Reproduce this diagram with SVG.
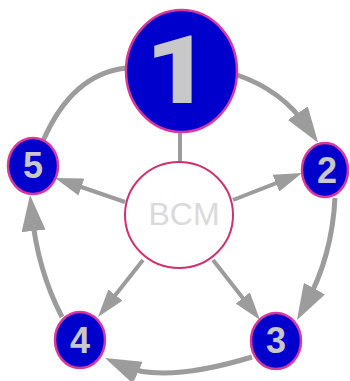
<svg xmlns="http://www.w3.org/2000/svg" width="350" height="381" viewBox="0 0 350 381">
<style>
.conn{fill:none;stroke:#9c9c9c;stroke-width:5}
.spoke{fill:none;stroke:#9c9c9c;stroke-width:4}
.node{fill:#0000cc;stroke:#d8389e;stroke-width:2.5}
.num{font-family:"Liberation Sans",Arial,sans-serif;font-weight:bold;fill:#c8c8c8;text-anchor:middle}
.big{font-family:Roboto,"Liberation Sans",sans-serif;font-weight:900;fill:#c8c8c8;text-anchor:middle}
.bcm{fill:#ffffff;stroke:#d0306e;stroke-width:2}
.bcmt{font-family:"Liberation Sans",Arial,sans-serif;font-size:32px;fill:#dadada;text-anchor:middle}
</style>
<defs>
<marker id="as" viewBox="0 0 28 18" markerWidth="28" markerHeight="18" refX="14" refY="9" orient="auto" markerUnits="userSpaceOnUse">
<path d="M0,0 L28,9 L0,18 z" fill="#9c9c9c"/>
</marker>
<marker id="aa" viewBox="0 0 36 24" markerWidth="36" markerHeight="24" refX="18" refY="12" orient="auto" markerUnits="userSpaceOnUse">
<path d="M0,0 L36,12 L0,24 z" fill="#9c9c9c"/>
</marker>
</defs>
<g id="connectors">
<path class="conn" d="M126,68 Q72,74 43,141"/>
<path class="conn" d="M237,75 Q282,90 308,128" marker-end="url(#aa)"/>
<path class="conn" d="M335,198 Q332,257 305.7,304.3" marker-end="url(#aa)"/>
<path class="conn" d="M252,357 Q163,384 121.4,365.4" marker-end="url(#aa)"/>
<path class="conn" d="M62,317 Q37.5,270 31.8,213" marker-end="url(#aa)"/>
<path class="spoke" d="M180,132 L180,161"/>
<path class="spoke" d="M125,202 L68.2,182.5" marker-end="url(#as)"/>
<path class="spoke" d="M233,200 L289,178.1" marker-end="url(#as)"/>
<path class="spoke" d="M143,260 L106.7,306" marker-end="url(#as)"/>
<path class="spoke" d="M213,260 L251.4,309" marker-end="url(#as)"/>
</g>
<g id="bcm">
<ellipse class="bcm" cx="179" cy="215" rx="54" ry="53"/>
<text class="bcmt" x="184" y="225">BCM</text>
</g>
<g id="node1">
<ellipse class="node" cx="181.5" cy="71" rx="55.5" ry="61"/>
<text class="big" transform="translate(178,103) scale(1.2,1)" x="0" y="0" font-size="95">1</text>
</g>
<g id="node2">
<ellipse class="node" cx="325" cy="170" rx="23" ry="27"/>
<text class="num" x="327" y="183" font-size="36">2</text>
</g>
<g id="node3">
<ellipse class="node" cx="276" cy="341" rx="25" ry="28"/>
<text class="num" x="276" y="353" font-size="36">3</text>
</g>
<g id="node4">
<ellipse class="node" cx="80" cy="340" rx="25" ry="28"/>
<text class="num" x="80" y="353" font-size="36">4</text>
</g>
<g id="node5">
<ellipse class="node" cx="33" cy="166" rx="25" ry="28"/>
<text class="num" x="33" y="178" font-size="36">5</text>
</g>
</svg>
